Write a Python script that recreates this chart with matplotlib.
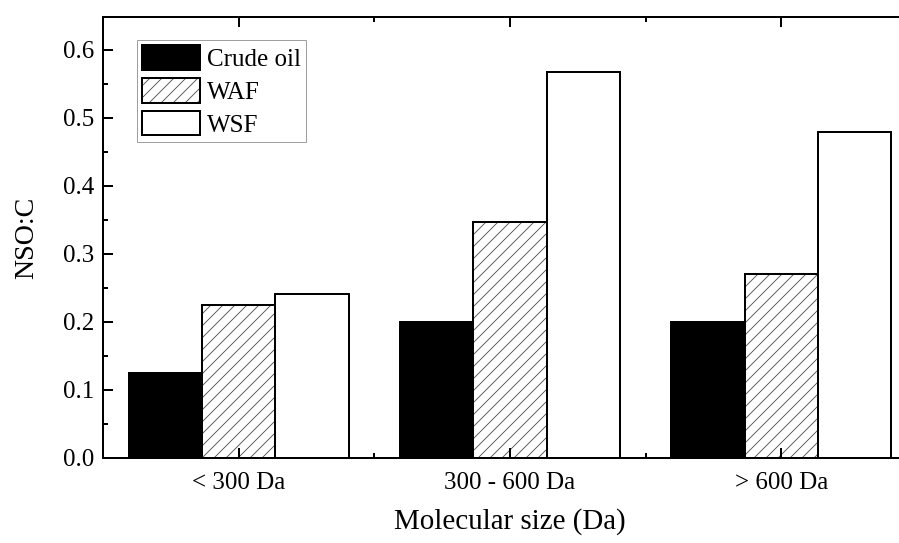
import numpy as np
import matplotlib
matplotlib.use("Agg")
import matplotlib.pyplot as plt
from matplotlib.legend_handler import HandlerTuple

categories = ["< 300 Da", "300 - 600 Da", "> 600 Da"]
crude_oil = [0.125, 0.200, 0.200]
waf = [0.225, 0.347, 0.270]
wsf = [0.241, 0.567, 0.479]

plt.rcParams["font.family"] = ["Liberation Serif", "DejaVu Serif"]
plt.rcParams["hatch.linewidth"] = 0.9

# dpi 72 so the hatch spacing comes out like the original
fig = plt.figure(figsize=(899 / 72, 543 / 72), dpi=72)
ax = fig.add_axes([103 / 899, 85 / 543, 814 / 899, 441 / 543])

x = np.arange(len(categories))
w = 0.27

b1 = ax.bar(x - w, crude_oil, w, color="black", edgecolor="black", linewidth=2)
h2 = ax.bar(x, waf, w, color="white", edgecolor="#555555", hatch="//", linewidth=0)
b2 = ax.bar(x, waf, w, fill=False, edgecolor="black", linewidth=2)
b3 = ax.bar(x + w, wsf, w, color="white", edgecolor="black", linewidth=2)

ax.set_xlim(-0.5, 2.5)
ax.set_ylim(0, 0.648)
ax.set_xticks(x)
ax.set_xticklabels(categories)
ax.set_xticks([0.5, 1.5], minor=True)
ax.set_yticks(np.arange(0, 0.61, 0.1))
ax.set_yticks(np.arange(0.05, 0.65, 0.1), minor=True)
ax.yaxis.set_major_formatter(plt.FormatStrFormatter("%.1f"))

ax.tick_params(which="both", direction="in", top=True, right=False, width=2, labelsize=25)
ax.tick_params(which="major", length=10)
ax.tick_params(which="minor", length=5)
ax.tick_params(axis="x", which="major", pad=14)
ax.tick_params(axis="y", which="major", pad=9)
for s in ax.spines.values():
    s.set_linewidth(2)

ax.set_xlabel("Molecular size (Da)", fontsize=29, labelpad=14)
ax.set_ylabel("NSO:C", fontsize=28, labelpad=24)

leg = ax.legend([b1, (h2, b2), b3], ["Crude oil", "WAF", "WSF"],
                handler_map={tuple: HandlerTuple(ndivide=1)},
                loc="upper left", bbox_to_anchor=(0.0418, 0.948), borderaxespad=0,
                fontsize=25, frameon=True, fancybox=False, handlelength=2.3,
                handleheight=1.15, labelspacing=0.28, handletextpad=0.28,
                borderpad=0.2)
leg.get_frame().set_edgecolor("#888888")
leg.get_frame().set_linewidth(1)

fig.savefig("out.png", dpi=72)
